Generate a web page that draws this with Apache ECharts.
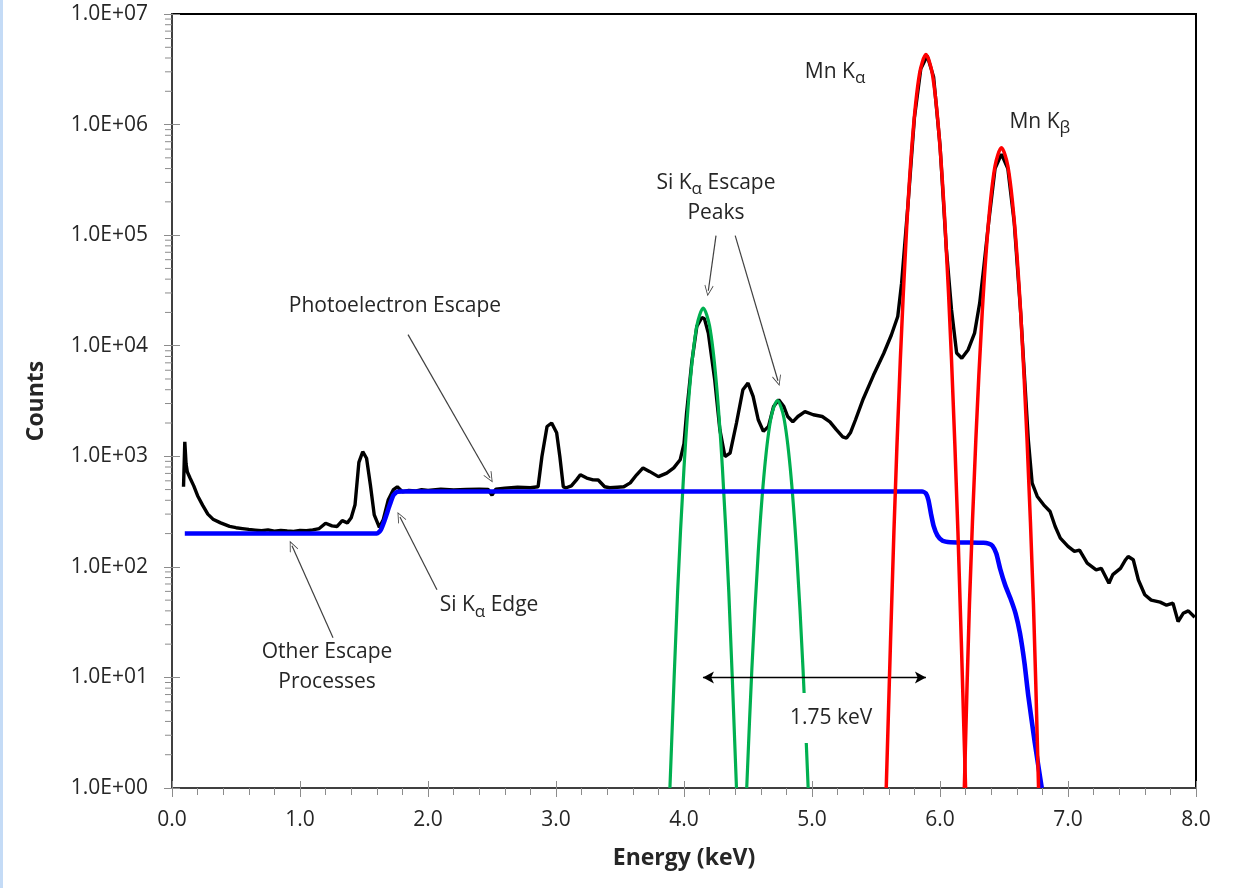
<!DOCTYPE html>
<html>
<head>
<meta charset="utf-8">
<script src="https://cdn.jsdelivr.net/npm/echarts@6/dist/echarts.min.js"></script>
<style>
  html, body { margin: 0; padding: 0; background: #fff; }
  #chart { width: 1234px; height: 888px; }
</style>
</head>
<body>
<div id="chart"></div>
<script>
// measured spectrum [energy keV, counts]
const measured = [
  [0.09, 530], [0.10, 1350], [0.11, 850], [0.12, 720], [0.14, 640], [0.17, 540], [0.20, 440],
  [0.24, 360], [0.28, 300], [0.32, 270], [0.38, 250], [0.45, 232], [0.50, 226], [0.55, 222],
  [0.60, 218], [0.65, 215], [0.70, 212], [0.75, 216], [0.80, 210], [0.85, 214], [0.90, 211],
  [0.95, 209], [1.00, 214], [1.05, 212], [1.10, 216], [1.15, 222], [1.20, 248], [1.25, 235],
  [1.29, 232], [1.33, 262], [1.37, 250], [1.40, 278], [1.43, 365], [1.46, 880], [1.49, 1100],
  [1.52, 960], [1.55, 550], [1.58, 295], [1.62, 228], [1.65, 266], [1.69, 405], [1.73, 500],
  [1.76, 530], [1.80, 478], [1.85, 490], [1.90, 485], [1.95, 500], [2.00, 490], [2.10, 505],
  [2.20, 495], [2.30, 500], [2.40, 505], [2.47, 500], [2.50, 445], [2.53, 505], [2.60, 515],
  [2.70, 525], [2.80, 520], [2.86, 530], [2.89, 995], [2.93, 1860], [2.966, 2000], [3.005, 1630],
  [3.03, 995], [3.057, 530], [3.08, 519], [3.12, 540], [3.16, 612], [3.19, 680], [3.24, 635],
  [3.29, 612], [3.33, 610], [3.38, 530], [3.42, 519], [3.48, 525], [3.53, 530], [3.58, 575],
  [3.63, 680], [3.68, 785], [3.73, 730], [3.80, 655], [3.865, 705], [3.92, 785], [3.97, 930],
  [4.00, 1300], [4.02, 2460], [4.06, 6970], [4.10, 14950], [4.14, 18000], [4.16, 17500],
  [4.19, 13000], [4.24, 4920], [4.28, 1740], [4.32, 995], [4.36, 1070], [4.41, 2000],
  [4.46, 4000], [4.50, 4590], [4.54, 3475], [4.58, 2140], [4.62, 1680], [4.66, 1860],
  [4.70, 2820], [4.74, 3245], [4.78, 2820], [4.81, 2290], [4.85, 2050], [4.89, 2290],
  [4.945, 2535], [5.01, 2375], [5.08, 2290], [5.14, 2050], [5.19, 1740], [5.24, 1500],
  [5.27, 1460], [5.30, 1630], [5.34, 2140], [5.40, 3300], [5.48, 5400], [5.56, 8500],
  [5.62, 12500], [5.67, 18400], [5.70, 36800], [5.75, 190000], [5.80, 1150000], [5.85, 3200000],
  [5.90, 4200000], [5.95, 2700000], [6.00, 650000], [6.05, 73800], [6.09, 21200], [6.13, 8590],
  [6.17, 7700], [6.22, 9200], [6.27, 13000], [6.31, 24300], [6.34, 48700], [6.38, 130000],
  [6.43, 400000], [6.48, 540000], [6.53, 400000], [6.58, 130000], [6.63, 20000], [6.69, 1410],
  [6.72, 572], [6.76, 433], [6.81, 364], [6.86, 317], [6.90, 232], [6.94, 182], [7.00, 153],
  [7.05, 138], [7.09, 142], [7.15, 108], [7.22, 94], [7.26, 97], [7.32, 71], [7.35, 85],
  [7.41, 97], [7.45, 116], [7.47, 124], [7.51, 116], [7.55, 76], [7.60, 56], [7.65, 50],
  [7.72, 48], [7.77, 45], [7.82, 47], [7.86, 32], [7.90, 38], [7.94, 40], [7.99, 35]
];

// escape background model
const background = [
  [0.10, 200], [1.60, 200], [1.63, 215], [1.66, 262], [1.70, 360], [1.73, 445], [1.76, 478],
  [1.80, 480], [5.86, 480], [5.89, 462], [5.91, 400], [5.93, 300], [5.95, 235], [5.98, 192],
  [6.02, 172], [6.08, 167], [6.34, 165], [6.38, 162], [6.41, 155], [6.44, 132], [6.47, 96],
  [6.51, 68], [6.55, 52], [6.59, 38], [6.625, 25], [6.66, 13.5], [6.69, 6.8], [6.74, 2.6],
  [6.795, 1]
];

// Si K-alpha escape peaks
const siEscapeA = [
  [3.89, 1], [3.95, 59], [4.00, 785], [4.05, 4990], [4.10, 15100], [4.15, 21900],
  [4.20, 15100], [4.25, 4990], [4.30, 785], [4.35, 59], [4.41, 1]
];
const siEscapeB = [
  [4.49, 1], [4.53, 11.8], [4.58, 136], [4.63, 785], [4.68, 2245], [4.73, 3185],
  [4.78, 2245], [4.83, 785], [4.88, 136], [4.93, 11.8], [4.97, 1]
];

// Mn K-alpha / K-beta
const mnKa = [
  [5.58, 1], [5.64, 209], [5.69, 7460], [5.74, 120000], [5.79, 877000], [5.84, 2880000],
  [5.89, 4300000], [5.94, 2880000], [5.99, 877000], [6.04, 120000], [6.09, 7460],
  [6.14, 209], [6.20, 1]
];
const mnKb = [
  [6.19, 1], [6.23, 46], [6.28, 1410], [6.33, 20200], [6.38, 135000], [6.43, 422000],
  [6.48, 617000], [6.53, 422000], [6.58, 135000], [6.63, 20200], [6.68, 1410],
  [6.73, 46], [6.77, 1]
];

const FONT = "'Open Sans', sans-serif";
const TXT = '#262626';
const TICK = '#8c8c8c';

// log minor ticks 2..9 x 10^k
const yMinorTicks = [];
for (let k = 0; k < 7; k++) {
  for (let m = 2; m <= 9; m++) yMinorTicks.push([0, m * Math.pow(10, k)]);
}

const openHead = 'path://M0,0L10,16L8.6,17L0,3.2L-8.6,17L-10,16Z';

function arrow(a, b) {
  return [{ coord: a, symbol: 'none' }, { coord: b, symbol: openHead, symbolSize: [9, 11] }];
}

const rich = {
  a: { fontFamily: FONT, fontSize: 21, lineHeight: 30, color: TXT },
  s: { fontFamily: FONT, fontSize: 17, lineHeight: 16, verticalAlign: 'bottom', color: TXT }
};

function note(coord, text, extra) {
  return { coord: coord, label: Object.assign({ formatter: text }, extra || {}) };
}

const chart = echarts.init(document.getElementById('chart'));

const option = {
  backgroundColor: '#fff',
  animation: false,
  textStyle: { fontFamily: FONT },
  graphic: [{ type: 'rect', shape: { x: 0, y: 0, width: 3, height: 888 }, style: { fill: '#c4dbf6' } }],
  grid: { left: 172, right: 38, top: 14, bottom: 100, show: true, borderColor: '#000', borderWidth: 2 },
  xAxis: [{
    type: 'value', min: 0, max: 8, interval: 1,
    axisLine: { show: true, lineStyle: { color: '#404040', width: 2 } },
    axisTick: { show: true, length: 9, lineStyle: { color: TICK } },
    minorTick: { show: true, splitNumber: 5, length: 7, lineStyle: { color: TICK } },
    splitLine: { show: false },
    axisLabel: { fontSize: 21, color: TXT, margin: 22, formatter: v => v.toFixed(1) },
    name: 'Energy (keV)', nameLocation: 'middle', nameGap: 59,
    nameTextStyle: { fontSize: 23, fontWeight: 'bold', color: TXT, fontFamily: FONT }
  }, {
    type: 'value', min: 0, max: 8, interval: 1, position: 'bottom',
    axisLine: { show: false },
    axisTick: { show: true, inside: true, length: 7, lineStyle: { color: TICK } },
    axisLabel: { show: false }, splitLine: { show: false }
  }],
  yAxis: [{
    type: 'log', logBase: 10, min: 1, max: 1e7, splitNumber: 7,
    axisLine: { show: true, lineStyle: { color: '#404040', width: 2 } },
    axisTick: { show: true, length: 8, lineStyle: { color: TICK } },
    splitLine: { show: false },
    axisLabel: {
      fontSize: 21, color: TXT, margin: 24,
      formatter: v => '1.0E+' + String(Math.round(Math.log10(v))).padStart(2, '0')
    },
    name: 'Counts', nameLocation: 'middle', nameGap: 124,
    nameTextStyle: { fontSize: 23, fontWeight: 'bold', color: TXT, fontFamily: FONT }
  }, {
    type: 'log', logBase: 10, min: 1, max: 1e7, splitNumber: 7, position: 'left',
    axisLine: { show: false },
    axisTick: { show: true, inside: true, length: 8, lineStyle: { color: TICK } },
    axisLabel: { show: false }, splitLine: { show: false }
  }],
  series: [
    {
      type: 'custom', name: 'yMinor', data: yMinorTicks, clip: false, silent: true, z: 3,
      renderItem: function (params, api) {
        const p = api.coord([0, api.value(1)]);
        return {
          type: 'line',
          shape: { x1: p[0] - 7, y1: p[1], x2: p[0], y2: p[1] },
          style: { stroke: TICK, lineWidth: 1 }
        };
      }
    },
    { type: 'line', name: 'measured', data: measured, showSymbol: false, lineStyle: { color: '#000', width: 3.4 }, z: 2 },
    { type: 'line', name: 'siEscapeA', data: siEscapeA, showSymbol: false, smooth: 0.3, lineStyle: { color: '#00b050', width: 3.2 }, z: 3 },
    { type: 'line', name: 'siEscapeB', data: siEscapeB, showSymbol: false, smooth: 0.3, lineStyle: { color: '#00b050', width: 3.2 }, z: 3 },
    { type: 'line', name: 'background', data: background, showSymbol: false, smooth: 0.2, lineStyle: { color: '#0000ff', width: 4.6 }, z: 4 },
    { type: 'line', name: 'mnKa', data: mnKa, showSymbol: false, smooth: 0.3, lineStyle: { color: '#ff0000', width: 3.5 }, z: 5 },
    { type: 'line', name: 'mnKb', data: mnKb, showSymbol: false, smooth: 0.3, lineStyle: { color: '#ff0000', width: 3.5 }, z: 5 },
    {
      type: 'line', name: 'notes', data: [], z: 10, silent: true,
      markLine: {
        silent: true, animation: false,
        label: { show: false },
        lineStyle: { color: '#404040', width: 1.2, type: 'solid' },
        emphasis: { disabled: true },
        data: [
          arrow([1.844, 12600], [2.484, 639]),
          arrow([1.258, 22.8], [0.9375, 155]),
          arrow([2.07, 62], [1.781, 283]),
          arrow([4.25, 98900], [4.19, 31400]),
          arrow([4.40, 98900], [4.734, 4820]),
          [
            { coord: [4.148, 10], symbol: 'arrow', symbolSize: [9, 11], lineStyle: { color: '#000', width: 1.3 } },
            { coord: [5.89, 10], symbol: 'arrow', symbolSize: [9, 11] }
          ]
        ]
      },
      markPoint: {
        silent: true, animation: false,
        symbol: 'circle', symbolSize: 1, itemStyle: { color: 'rgba(0,0,0,0)' },
        label: { show: true, position: 'inside', color: TXT, fontFamily: FONT, fontSize: 21, rich: rich },
        data: [
          note([1.742, 23000], '{a|Photoelectron Escape}'),
          note([4.25, 218000], '{a|Si K}{s|α}{a| Escape}\n{a|Peaks}'),
          note([5.18, 3.0e6], '{a|Mn K}{s|α}'),
          note([6.78, 1.06e6], '{a|Mn K}{s|β}'),
          note([2.477, 45], '{a|Si K}{s|α}{a| Edge}'),
          note([1.211, 12.3], '{a|Other Escape}\n{a|Processes}'),
          note([5.15, 4.3], '{a|1.75 keV}', { backgroundColor: '#fff', padding: [10, 12] })
        ]
      }
    }
  ]
};

chart.setOption(option);
</script>
</body>
</html>
